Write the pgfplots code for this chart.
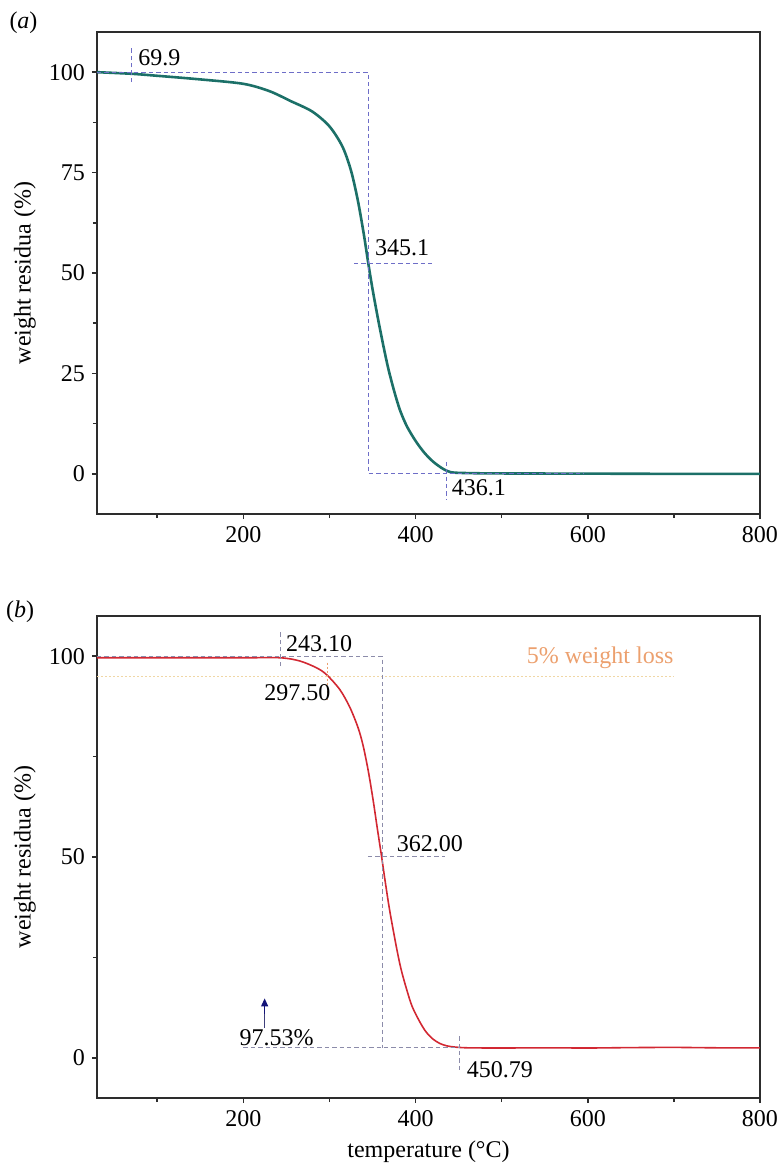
\documentclass[border=0pt]{standalone}
\usepackage{fontspec}
\setmainfont{Liberation Serif}
\usepackage{pgfplots}
\pgfplotsset{compat=1.18}
\usetikzlibrary{arrows.meta}

\definecolor{tealc}{RGB}{28,112,104}
\definecolor{redc}{RGB}{210,40,50}
\definecolor{dasha}{RGB}{110,110,200}
\definecolor{dashb}{RGB}{140,140,170}
\definecolor{orangec}{RGB}{236,160,110}
\definecolor{yellowc}{RGB}{240,215,165}
\definecolor{navyc}{RGB}{20,20,120}
\definecolor{framec}{RGB}{45,45,45}

\newcommand{\lblfont}{\fontsize{12}{14}\selectfont}

\pgfplotsset{
 tgastyle/.style={
  scale only axis, width=331.5pt, height=241pt,
  xmin=30, xmax=800, ymin=-10, ymax=110,
  xtick={200,400,600,800}, minor xtick={100,300,500,700},
  tick align=outside, tick pos=left,
  major tick length=2.5pt, minor tick length=2pt,
  axis line style={framec, line width=1pt},
  every tick/.style={framec, line width=0.8pt},
  tick label style={font=\lblfont},
  label style={font=\lblfont},
  /pgf/number format/assume math mode=true,
  ylabel={weight residua (\%)},
  ylabel style={at={([xshift=-36pt]axis description cs:0,0.5)}, anchor=center},
  clip=false,
 },
 dashA/.style={dasha, line width=0.5pt, dash pattern=on 2.2pt off 1.5pt},
 dashB/.style={dashb, line width=0.5pt, dash pattern=on 2.2pt off 1.5pt},
}

\begin{document}
\begin{tikzpicture}
\useasboundingbox (0,0) rectangle (388.5pt,-582pt);

\node[font=\lblfont] at (11.75pt,-11.5pt) {(\textit{a})};
\node[font=\lblfont] at (10pt,-306pt) {(\textit{b})};

% ---------------- panel (a)
\begin{axis}[tgastyle, at={(48.5pt,-16pt)}, anchor=north west,
  ytick={0,25,50,75,100}, minor ytick={12.5,37.5,62.5,87.5}]
\addplot[tealc, line width=1.3pt, smooth, tension=0.5] coordinates {
(30,100) (70,99.6) (100,99.1) (150,98.2) (200,97.1) (230,95.3) (255,92.8)
(280,90.2) (300,86.5) (315,81.5) (325,75.5) (333,68) (340,59.5) (345,52.5)
(350,46) (356,39) (362,32.5) (368,26.5) (375,20.7) (382,15.8) (390,11.8)
(400,8.2) (410,5.3) (420,3.1) (430,1.5) (437,0.7) (445,0.3) (470,0.15) (500,0.1)
(600,0.05) (700,0) (800,0)};
\addplot[dashA] coordinates {(69.9,97.5) (69.9,106.5)};
\addplot[dashA] coordinates {(30,100) (345.1,100) (345.1,0) (595,0)};
\addplot[dashA] coordinates {(328.5,52.4) (420,52.4)};
\addplot[dashA] coordinates {(436.1,3) (436.1,-6.5)};
\node[font=\lblfont, anchor=west, inner sep=0pt] at (axis cs:77.6,103.5) {69.9};
\node[font=\lblfont, anchor=west, inner sep=0pt] at (axis cs:352.6,56.2) {345.1};
\node[font=\lblfont, anchor=west, inner sep=0pt] at (axis cs:441.6,-3.5) {436.1};
\end{axis}

% ---------------- panel (b)
\begin{axis}[tgastyle, at={(48.5pt,-308pt)}, anchor=north west,
  ytick={0,50,100}, minor ytick={25,75},
  xlabel={temperature (\textdegree C)},
  xlabel style={at={([yshift=-27pt]axis description cs:0.5,0)}, anchor=center}]
\addplot[yellowc, line width=0.5pt, dash pattern=on 1pt off 1pt] coordinates {(30,95) (700,95)};
\addplot[redc, line width=0.8pt, smooth, tension=0.5] coordinates {
(30,99.6) (100,99.6) (200,99.6) (243,99.6) (265.6,98.8) (285,97.1) (296.6,95.4)
(312,91.7) (323.6,87.3) (333.2,82.2) (339,77.8) (345,71.5) (350.6,64.3)
(355.5,57.2) (360.4,50.3) (365,43.5) (370,36.6) (377.8,27.5) (383,22.2)
(389.4,17.2) (396,12.8) (404.8,9.0) (412,6.5) (420,4.7) (428,3.6) (436,3.0)
(445,2.7) (460,2.5) (500,2.45) (550,2.5) (600,2.45) (650,2.55) (700,2.6) (750,2.5) (800,2.5)};
\addplot[dashB] coordinates {(243.1,97.5) (243.1,106)};
\addplot[dashB] coordinates {(30,99.8) (362,99.8) (362,2.5)};
\addplot[dashB] coordinates {(344.5,50.2) (433.8,50.2)};
\addplot[dashB] coordinates {(200,2.5) (450.79,2.5)};
\addplot[dashB] coordinates {(450.79,5.4) (450.79,-3.4)};
\addplot[orangec, line width=0.4pt, dash pattern=on 1pt off 1pt] coordinates {(297.5,98.4) (297.5,89.3)};
\draw[navyc!60!gray, line width=0.6pt] (axis cs:224.7,7.5) -- (axis cs:224.7,12);
\draw[navyc, -{Triangle[length=4pt,width=3.5pt]}, line width=0.6pt] (axis cs:224.7,11) -- (axis cs:224.7,14.8);
\node[font=\lblfont, anchor=west, inner sep=0pt] at (axis cs:249.2,103) {243.10};
\node[font=\lblfont, anchor=west, inner sep=0pt] at (axis cs:223.8,90.9) {297.50};
\node[font=\lblfont, anchor=west, inner sep=0pt] at (axis cs:377.8,53.2) {362.00};
\node[font=\lblfont, anchor=west, inner sep=0pt] at (axis cs:459,-2.9) {450.79};
\node[font=\lblfont, anchor=west, inner sep=0pt] at (axis cs:195.1,5) {97.53\%};
\node[font=\fontsize{12}{14}\selectfont, text=orangec, anchor=west, inner sep=0pt] at (axis cs:528.7,99.7) {5\% weight loss};
\end{axis}
\end{tikzpicture}
\end{document}
